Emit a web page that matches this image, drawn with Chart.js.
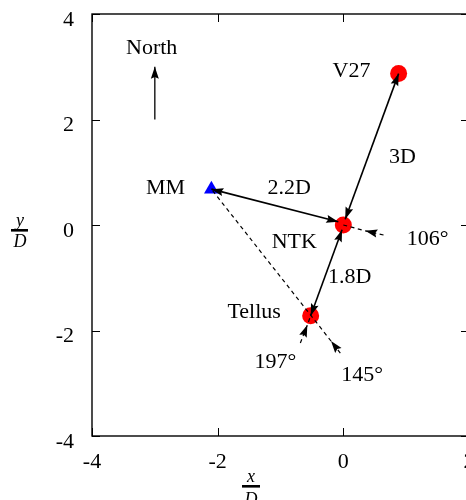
<!DOCTYPE html>
<html>
<head>
<meta charset="utf-8">
<script src="https://cdn.jsdelivr.net/npm/chart.js@4/dist/chart.umd.min.js"></script>
<style>
  body { margin: 0; background: #fff; }
  #wrap { width: 466px; height: 500px; overflow: hidden; position: relative; }
  canvas { display: block; }
</style>
</head>
<body>
<div id="wrap"><canvas id="mapa" width="510" height="500"></canvas></div>
<script>
// estacoes (x/D, y/D)
var stationNames = ['V27', 'NTK', 'Tellus'];
var stationX = [0.88, 0, -0.52];
var stationY = [2.87, 0, -1.72];
var mmX = [-2.1];
var mmY = [0.68];

// distancias, seta nas duas pontas
var linkNames = ['3D', '2.2D', '1.8D'];
var linkFromX = [0.88, -2.1, -0.52];
var linkFromY = [2.87, 0.68, -1.72];
var linkToX = [0.03, -0.08, -0.02];
var linkToY = [0.11, 0.06, -0.09];

// direcoes tracejadas: ponta externa, ponta da seta, inicio
var dirNames = ['106°', '145°', '197°'];
var dirEndX = [0.64, -0.048, -0.684];
var dirEndY = [-0.19, -2.427, -2.237];
var dirTipX = [0.35, -0.196, -0.573];
var dirTipY = [-0.11, -2.199, -1.896];
var dirStartX = [0, -2.1, -0.52];
var dirStartY = [0, 0.68, -1.72];

// seta do norte
var northX = [-3, -3];
var northY = [2.0, 3.0];

// textos
var textLabels = ['North', 'V27', '3D', '2.2D', 'MM', 'NTK', '106°', '1.8D', 'Tellus', '197°', '145°'];
var textX = [-3.05, 0.13, 0.94, -0.86, -2.83, -0.78, 1.34, 0.10, -1.42, -1.08, 0.30];
var textY = [3.36, 2.92, 1.29, 0.70, 0.70, -0.32, -0.27, -0.99, -1.65, -2.60, -2.84];

var xMin = -4, xMax = 2, yMin = -4, yMax = 4, tickStep = 2;

var SERIF = '"Liberation Serif", "DejaVu Serif", serif';

function pts(xs, ys) {
  return xs.map(function(x, i){ return { x: x, y: ys[i] }; });
}

var datasets = [];

// marcadores
datasets.push({ label: 'stations', data: pts(stationX, stationY), showLine: false,
  pointStyle: 'circle', pointRadius: 8.5, pointBackgroundColor: '#ff0000', pointBorderWidth: 0, order: 10 });
datasets.push({ label: 'MM', data: pts(mmX, mmY), showLine: false,
  pointStyle: 'triangle', pointRadius: 8.5, pointBackgroundColor: '#0000ff', pointBorderWidth: 0, order: 10 });

// linhas solidas
linkNames.forEach(function(n, i){
  datasets.push({ label: n, data: pts([linkFromX[i], linkToX[i]], [linkFromY[i], linkToY[i]]),
    showLine: true, borderColor: '#000', borderWidth: 1.6, pointRadius: 0, order: 1,
    heads: [[1, 0], [0, 1]] });
});

// linhas tracejadas
dirNames.forEach(function(n, i){
  datasets.push({ label: n, data: pts([dirEndX[i], dirTipX[i], dirStartX[i]], [dirEndY[i], dirTipY[i], dirStartY[i]]),
    showLine: true, borderColor: '#000', borderWidth: 1.2, borderDash: [4, 3.5], pointRadius: 0, order: 2,
    heads: [[1, 0]] });
});

datasets.push({ label: 'North', data: pts(northX, northY), showLine: true, borderColor: '#000',
  borderWidth: 1.3, pointRadius: 0, order: 1, heads: [[1, 0]] });

function drawHead(ctx, tip, from, len, half) {
  var dx = tip.x - from.x, dy = tip.y - from.y;
  var d = Math.sqrt(dx * dx + dy * dy);
  var ux = dx / d, uy = dy / d;
  var bx = tip.x - ux * len, by = tip.y - uy * len;
  ctx.beginPath();
  ctx.moveTo(tip.x, tip.y);
  ctx.lineTo(bx - uy * half, by + ux * half);
  ctx.lineTo(tip.x - ux * len * 0.85, tip.y - uy * len * 0.85);
  ctx.lineTo(bx + uy * half, by - ux * half);
  ctx.closePath();
  ctx.fill();
}

var extras = {
  id: 'extras',
  afterDatasetsDraw: function(chart) {
    var ctx = chart.ctx;
    var xs = chart.scales.x, ys = chart.scales.y;
    var a = chart.chartArea;
    ctx.save();
    ctx.fillStyle = '#000';
    // pontas de seta
    chart.data.datasets.forEach(function(ds, i){
      if (!ds.heads) return;
      var meta = chart.getDatasetMeta(i);
      ds.heads.forEach(function(h){
        drawHead(ctx, meta.data[h[0]], meta.data[h[1]], 12, 4);
      });
    });
    // moldura e ticks internos
    ctx.strokeStyle = '#000';
    ctx.lineWidth = 1.4;
    ctx.strokeRect(a.left, a.top, a.right - a.left, a.bottom - a.top);
    ctx.lineWidth = 1;
    ctx.beginPath();
    for (var v = xMin; v <= xMax; v += tickStep) {
      var px = Math.round(xs.getPixelForValue(v)) + 0.5;
      ctx.moveTo(px, a.bottom); ctx.lineTo(px, a.bottom - 8);
      ctx.moveTo(px, a.top); ctx.lineTo(px, a.top + 8);
    }
    for (var w = yMin; w <= yMax; w += tickStep) {
      var py = Math.round(ys.getPixelForValue(w)) + 0.5;
      ctx.moveTo(a.left, py); ctx.lineTo(a.left + 8, py);
      ctx.moveTo(a.right, py); ctx.lineTo(a.right - 8, py);
    }
    ctx.stroke();
    // textos
    ctx.font = '22px ' + SERIF;
    ctx.textAlign = 'center';
    ctx.textBaseline = 'middle';
    textLabels.forEach(function(t, i){
      ctx.fillText(t, xs.getPixelForValue(textX[i]), ys.getPixelForValue(textY[i]));
    });
    ctx.restore();
  },
  afterDraw: function(chart) {
    // titulos dos eixos como fracao
    var ctx = chart.ctx;
    ctx.save();
    ctx.fillStyle = '#000';
    ctx.font = 'italic 18px ' + SERIF;
    ctx.textAlign = 'center';
    ctx.textBaseline = 'alphabetic';
    ctx.fillText('y', 20, 226);
    ctx.fillRect(11, 229, 17, 2.6);
    ctx.fillText('D', 20, 247);
    ctx.fillText('x', 251, 482);
    ctx.fillRect(242, 485, 18, 2.6);
    ctx.fillText('D', 251, 505);
    ctx.restore();
  }
};

new Chart(document.getElementById('mapa'), {
  type: 'scatter',
  data: { datasets: datasets },
  options: {
    responsive: false,
    animation: false,
    events: [],
    layout: { padding: { top: 14, right: 41, left: 0, bottom: 0 } },
    elements: { line: { tension: 0 } },
    plugins: { legend: { display: false }, tooltip: { enabled: false } },
    scales: {
      x: {
        type: 'linear', min: xMin, max: xMax,
        grid: { display: false }, border: { display: false },
        ticks: { stepSize: tickStep, color: '#000', padding: 5, font: { family: SERIF, size: 22 } },
        afterFit: function(s) { s.height = 64; s.paddingLeft = 0; s.paddingRight = 0; }
      },
      y: {
        type: 'linear', min: yMin, max: yMax,
        grid: { display: false }, border: { display: false },
        ticks: { stepSize: tickStep, color: '#000', padding: 10, labelOffset: 6, font: { family: SERIF, size: 22 } },
        afterFit: function(s) { s.width = 92; s.paddingTop = 0; s.paddingBottom = 0; }
      }
    }
  },
  plugins: [extras]
});
</script>
</body>
</html>
